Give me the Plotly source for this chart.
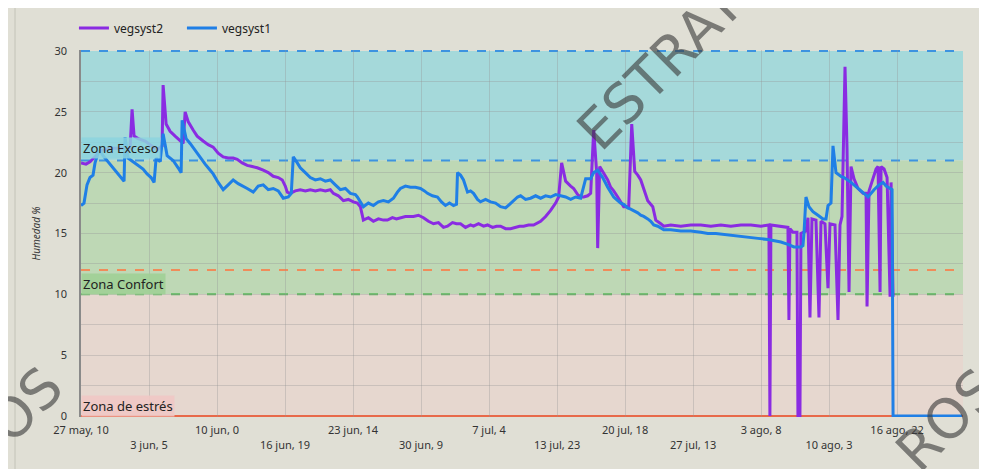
import pandas as pd
import plotly.graph_objects as go

# ---------------- data ----------------
start_time = "2024-05-27 10:00"

# vegsyst1 (blue): elapsed days since start, humidity %
days_v1 = [0.0, 0.3, 0.6, 0.9, 1.2, 1.4, 1.7, 1.9, 2.2, 2.7, 3.2, 3.7, 4.2, 4.3, 4.4, 4.7, 5.2, 5.7, 6.2, 6.6,
           7.0, 7.3, 7.5, 7.9, 8.2, 8.6, 9.2, 9.7, 10.0, 10.1, 10.5, 10.9, 11.4, 11.9, 12.4, 12.8, 13.2, 13.7,
           14.2, 14.7, 15.2, 15.7, 16.2, 16.6, 17.2, 17.7, 18.2, 18.7, 19.2, 19.7, 20.2, 20.7, 21.0, 21.2,
           21.6, 21.9, 22.4, 22.9, 23.4, 23.9, 24.4, 24.9, 25.4, 25.9, 26.4, 26.9, 27.4, 27.6, 27.9, 28.2,
           28.7, 29.2, 29.7, 30.2, 30.7, 31.2, 31.6, 31.9, 32.4, 32.9, 33.4, 33.9, 34.3, 34.6, 35.1, 35.6,
           36.0, 36.4, 36.8, 37.2, 37.5, 37.6, 37.9, 38.2, 38.6, 38.9, 39.2, 39.6, 39.9, 40.4, 40.9, 41.4,
           41.9, 42.4, 42.8, 43.2, 43.6, 43.9, 44.4, 44.9, 45.4, 45.9, 46.4, 46.9, 47.4, 47.9, 48.4, 48.9,
           49.4, 49.9, 50.4, 50.9, 51.2, 51.6, 52.1, 52.6, 52.9, 53.2, 53.6, 53.9, 54.2, 54.6, 54.9, 55.2,
           55.6, 55.9, 56.2, 56.6, 56.9, 57.2, 57.6, 58.2, 58.9, 59.9, 60.9, 61.9, 62.6, 63.4, 64.6, 65.6,
           66.6, 67.6, 68.6, 69.4, 69.9, 70.6, 71.2, 71.9, 72.1, 72.2, 72.4, 72.7, 73.1, 73.6, 74.1, 74.4,
           74.6, 74.9, 75.1, 75.4, 75.9, 76.2, 76.6, 76.9, 77.6, 78.2, 78.6, 79.2, 79.7, 80.1, 80.4, 80.6,
           81.0, 81.1, 88.0]
hum_v1 = [17.3, 17.5, 19.0, 19.6, 19.8, 20.8, 21.6, 21.8, 21.4, 20.9, 20.4, 19.9, 19.4, 19.3, 22.9, 21.2, 20.9,
          20.6, 20.3, 19.9, 19.6, 19.2, 21.2, 20.9, 23.2, 21.4, 21.0, 20.4, 20.0, 24.3, 22.8, 22.4, 21.8, 21.2,
          20.7, 20.3, 19.9, 19.2, 18.6, 19.0, 19.4, 19.1, 18.9, 18.7, 18.4, 18.9, 19.0, 18.6, 18.7, 18.5, 17.9,
          18.0, 18.3, 21.3, 20.8, 20.4, 20.0, 19.6, 19.4, 19.5, 19.3, 19.4, 19.0, 18.6, 18.7, 18.3, 18.2, 18.0,
          17.6, 17.2, 17.5, 17.3, 17.6, 17.7, 17.6, 17.9, 18.4, 18.7, 18.9, 18.8, 18.8, 18.7, 18.5, 18.3, 18.1,
          18.0, 17.6, 17.3, 17.5, 17.3, 17.4, 20.0, 19.8, 19.4, 18.4, 18.5, 18.3, 17.8, 17.6, 17.8, 17.6, 17.5,
          17.2, 17.1, 17.4, 17.7, 18.0, 18.1, 17.8, 17.9, 18.1, 17.9, 18.1, 18.0, 18.2, 18.1, 18.0, 17.8, 18.0,
          17.9, 19.5, 19.5, 20.0, 20.2, 19.6, 18.8, 18.4, 18.0, 17.7, 17.5, 17.4, 17.1, 17.0, 16.9, 16.7, 16.5,
          16.4, 16.2, 16.0, 15.7, 15.6, 15.3, 15.3, 15.2, 15.2, 15.1, 15.0, 15.0, 14.9, 14.8, 14.7, 14.6, 14.5,
          14.4, 14.3, 14.1, 13.9, 13.9, 14.0, 15.0, 18.0, 17.2, 16.8, 16.5, 16.2, 16.2, 17.3, 17.5, 22.2, 20.0,
          19.7, 19.6, 19.4, 19.2, 18.7, 18.3, 18.0, 18.6, 19.0, 19.2, 18.9, 18.8, 18.6, 0.0, 0.0]

# vegsyst2 (purple)
days_v2 = [0.0, 0.5, 0.9, 1.4, 1.9, 2.9, 3.9, 4.9, 5.1, 5.3, 5.7, 6.4, 6.9, 7.6, 8.1, 8.2, 8.5, 8.9, 9.4, 9.9,
           10.2, 10.4, 10.7, 11.2, 11.6, 12.2, 12.7, 13.2, 13.7, 14.2, 14.7, 15.2, 15.6, 16.1, 16.6, 17.1,
           17.6, 18.2, 18.7, 19.2, 19.7, 20.1, 20.4, 20.6, 20.9, 21.4, 21.9, 22.4, 22.9, 23.4, 23.9, 24.4,
           24.9, 25.2, 25.7, 26.2, 26.7, 27.2, 27.6, 27.9, 28.2, 28.7, 29.2, 29.7, 30.2, 30.6, 31.1, 31.5,
           31.9, 32.4, 32.9, 33.2, 33.7, 34.2, 34.7, 35.2, 35.7, 36.2, 36.6, 37.1, 37.5, 37.9, 38.4, 38.9,
           39.2, 39.7, 40.2, 40.6, 41.1, 41.5, 41.9, 42.4, 42.9, 43.4, 43.8, 44.2, 44.7, 45.2, 45.6, 45.9,
           46.4, 46.9, 47.4, 47.7, 48.0, 48.4, 48.9, 49.2, 49.6, 49.9, 50.2, 50.6, 50.9, 51.2, 51.5, 51.6,
           51.8, 52.2, 52.6, 52.9, 53.2, 53.6, 53.9, 54.2, 54.7, 55.0, 55.3, 55.6, 55.9, 56.3, 56.6, 57.1,
           57.4, 57.9, 58.2, 58.9, 59.9, 60.9, 61.9, 62.9, 63.9, 64.9, 65.9, 66.9, 67.9, 68.7, 68.8, 68.9,
           69.7, 70.6, 70.7, 70.8, 71.1, 71.5, 71.6, 71.8, 71.9, 72.4, 72.6, 72.8, 73.0, 73.4, 73.7, 73.9,
           74.3, 74.6, 74.8, 75.3, 75.6, 75.8, 76.0, 76.3, 76.5, 76.7, 76.9, 77.2, 77.6, 78.1, 78.4, 78.5,
           78.7, 79.1, 79.4, 79.6, 79.8, 79.9, 80.2, 80.5, 80.8, 80.9, 81.1]
hum_v2 = [20.8, 20.7, 20.9, 21.3, 21.8, 22.0, 22.0, 22.0, 25.2, 23.0, 22.8, 22.6, 22.3, 21.9, 22.2, 27.2, 24.0,
          23.4, 23.0, 22.6, 22.4, 25.0, 24.2, 23.5, 23.0, 22.6, 22.3, 22.1, 21.6, 21.3, 21.2, 21.2, 21.1, 20.8,
          20.6, 20.5, 20.4, 20.2, 20.0, 19.7, 19.6, 19.4, 18.9, 18.4, 18.3, 18.5, 18.6, 18.5, 18.6, 18.5, 18.6,
          18.5, 18.6, 18.3, 18.1, 17.7, 17.8, 17.6, 17.5, 17.2, 16.1, 16.3, 16.0, 16.2, 16.1, 16.1, 16.3, 16.2,
          16.3, 16.4, 16.4, 16.4, 16.5, 16.3, 16.0, 15.8, 15.9, 15.5, 15.6, 15.9, 15.8, 15.8, 15.5, 15.7, 15.6,
          15.8, 15.6, 15.7, 15.5, 15.6, 15.6, 15.4, 15.4, 15.5, 15.6, 15.6, 15.7, 15.7, 15.9, 16.0, 16.4, 16.9,
          17.5, 18.0, 20.8, 19.3, 18.9, 18.7, 18.2, 18.0, 18.0, 18.1, 18.3, 23.5, 20.0, 13.8, 20.5, 20.0, 19.4,
          18.8, 18.5, 18.0, 17.6, 17.2, 17.2, 24.0, 20.1, 19.8, 19.4, 18.5, 17.7, 17.2, 16.1, 15.8, 15.6, 15.7,
          15.6, 15.7, 15.7, 15.6, 15.7, 15.6, 15.7, 15.7, 15.6, 15.7, 0.0, 15.7, 15.6, 15.5, 7.9, 15.4, 15.1,
          15.1, 0.0, 0.0, 15.0, 15.2, 16.3, 8.1, 16.2, 16.1, 8.1, 16.0, 15.8, 10.5, 15.8, 15.7, 7.9, 15.7, 16.4,
          28.7, 22.0, 10.2, 20.5, 19.5, 18.7, 18.3, 18.3, 9.0, 18.5, 19.6, 20.3, 20.5, 10.2, 20.5, 20.3, 19.6,
          9.8, 19.2, 9.8]

tick_times = ["2024-05-27 10:00", "2024-06-03 05:00", "2024-06-10 00:00", "2024-06-16 19:00",
              "2024-06-23 14:00", "2024-06-30 09:00", "2024-07-07 04:00", "2024-07-13 23:00",
              "2024-07-20 18:00", "2024-07-27 13:00", "2024-08-03 08:00", "2024-08-10 03:00",
              "2024-08-16 22:00"]
tick_labels = ["27 may, 10", "3 jun, 5", "10 jun, 0", "16 jun, 19", "23 jun, 14", "30 jun, 9",
               "7 jul, 4", "13 jul, 23", "20 jul, 18", "27 jul, 13", "3 ago, 8", "10 ago, 3",
               "16 ago, 22"]
x_end = "2024-08-23 12:00"

# zones
zone_exceso = (21, 30)
zone_confort = (10, 21)
zone_estres = (0, 10)
line_confort_top = 12

# ---------------- figure ----------------
t0 = pd.Timestamp(start_time)
t_v1 = [t0 + pd.Timedelta(days=d) for d in days_v1]
t_v2 = [t0 + pd.Timedelta(days=d) for d in days_v2]

FONT = "Noto Sans"
fig = go.Figure()
fig.add_trace(go.Scatter(x=t_v2, y=hum_v2, mode="lines", name="vegsyst2",
                         line=dict(color="#8a2be2", width=3)))
fig.add_trace(go.Scatter(x=t_v1, y=hum_v1, mode="lines", name="vegsyst1",
                         line=dict(color="#1f7fe6", width=3)))

# bands
for (y0, y1), col in [(zone_exceso, "#a5d9da"), (zone_confort, "#bed8b5"), (zone_estres, "#e6d7cf")]:
    fig.add_shape(type="rect", xref="paper", yref="y", x0=0, x1=1, y0=y0, y1=y1,
                  fillcolor=col, line_width=0, layer="below")

# zone boundary lines
for yv, col, dash in [(30, "#3d93e0", "dash"), (21, "#3d93e0", "dash"),
                      (line_confort_top, "#f08c5a", "dash"), (10, "#5cb85c", "dash"),
                      (0, "#e8694a", "solid")]:
    fig.add_shape(type="line", xref="paper", yref="y", x0=0, x1=1, y0=yv, y1=yv,
                  line=dict(color=col, width=2, dash=dash), layer="between")

# zone labels
for txt, yv, bg in [("Zona Exceso", 22.0, "rgba(140,212,222,0.85)"),
                    ("Zona Confort", 10.85, "rgba(160,208,150,0.9)"),
                    ("Zona de estrés", 0.85, "rgba(240,200,196,0.9)")]:
    fig.add_annotation(xref="paper", yref="y", x=0.0, y=yv, text=txt, showarrow=False,
                       xanchor="left", yanchor="middle", bgcolor=bg, borderpad=1,
                       font=dict(family=FONT, size=13, color="#222"))

# watermark
for txt, xp, yp in [("ESTRAT", 0.6565, 0.954), ("ROS", 0.982, -0.008), ("OS", -0.0635, 0.033)]:
    fig.add_annotation(xref="paper", yref="paper", x=xp, y=yp, text=txt, showarrow=False,
                       textangle=-45, xanchor="center", yanchor="middle",
                       font=dict(family="DejaVu Sans", size=55, color="rgba(60,60,60,0.62)"))

# left panel border
fig.add_shape(type="line", xref="paper", yref="paper", x0=-0.0748, x1=-0.0748, y0=-0.2, y1=1.2,
              line=dict(color="#c4c3b8", width=1))

ticktext = [lab if i % 2 == 0 else "<br>" + lab for i, lab in enumerate(tick_labels)]

fig.update_layout(
    width=979, height=461,
    margin=dict(l=73, r=24, t=42, b=52, autoexpand=False),
    paper_bgcolor="#e0dfd5", plot_bgcolor="#e0dfd5",
    font=dict(family=FONT, size=11, color="#333"),
    showlegend=True,
    legend=dict(orientation="h", x=-0.008, xanchor="left", y=1.06, yanchor="middle",
                entrywidth=63, entrywidthmode="pixels",
                font=dict(family=FONT, size=12, color="#222"), bgcolor="rgba(0,0,0,0)"),
    xaxis=dict(type="date", range=[start_time, x_end], tickmode="array", tickvals=tick_times,
               ticktext=ticktext, showgrid=True, gridcolor="rgba(150,150,150,0.35)", gridwidth=1,
               zeroline=False, showline=False, ticks="outside", ticklen=3, automargin=False,
               tickcolor="rgba(0,0,0,0)", tickfont=dict(size=11, color="#333"), tickangle=0),
    yaxis=dict(range=[-0.08, 30.08], tickmode="array", tickvals=[0, 5, 10, 15, 20, 25, 30],
               showgrid=True, gridcolor="rgba(150,150,150,0.35)", automargin=False,
               minor=dict(tickmode="array", tickvals=[2.5, 7.5, 12.5, 17.5, 22.5, 27.5], showgrid=True,
                          gridcolor="rgba(150,150,150,0.35)"),
               zeroline=False, showline=True, linecolor="#8a8a8a", linewidth=1.5,
               ticks="outside", ticklen=10, tickcolor="rgba(0,0,0,0)",
               tickfont=dict(size=11, color="#333"),
               title=dict(text="<i>Humedad %</i>", font=dict(size=10, color="#333"), standoff=12)),
)

fig.write_html("out.html")
